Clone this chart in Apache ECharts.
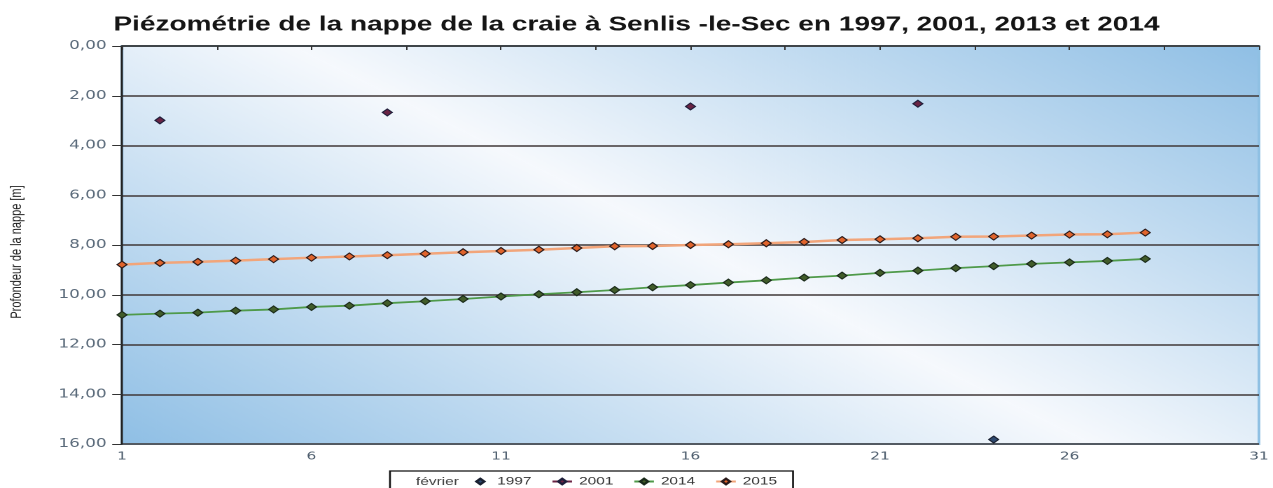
<!DOCTYPE html>
<html><head><meta charset="utf-8">
<script src="https://cdn.jsdelivr.net/npm/echarts@6/dist/echarts.min.js"></script>
<style>
html,body{margin:0;padding:0;background:#fff;overflow:hidden;}
#wrap{width:1273px;height:488px;overflow:hidden;}
#chart{width:909px;height:488px;transform:scaleX(1.4004);transform-origin:0 0;}
</style></head><body><div id="wrap"><div id="chart"></div></div>
<script>
// ---- data (day of month, depth in m) ----
const days = [1,2,3,4,5,6,7,8,9,10,11,12,13,14,15,16,17,18,19,20,21,22,23,24,25,26,27,28];
const depth2015 = [8.79,8.72,8.68,8.63,8.57,8.51,8.46,8.41,8.35,8.29,8.24,8.19,8.12,8.05,8.04,8.00,7.97,7.93,7.88,7.80,7.77,7.73,7.67,7.66,7.62,7.58,7.57,7.50];
const depth2014 = [10.81,10.76,10.72,10.64,10.59,10.49,10.44,10.34,10.26,10.17,10.07,9.98,9.90,9.81,9.70,9.61,9.51,9.42,9.31,9.23,9.12,9.03,8.93,8.85,8.76,8.70,8.64,8.56];
const days2001 = [2,8,16,22];
const depth2001 = [2.99,2.67,2.43,2.32];
const days1997 = [24];
const depth1997 = [15.82];
const seriesNames = ['1997','2001','2014','2015'];
const titleText = 'Piézométrie de la nappe de la craie à Senlis -le-Sec en 1997, 2001, 2013 et 2014';
const yName = 'Profondeur de la nappe [m]';
const xName = 'février';

const S = 1.4004; // horizontal stretch of the original picture
const chart = echarts.init(document.getElementById('chart'), null, {devicePixelRatio: 2});

const pts2015 = days.map((d, i) => [d, depth2015[i]]);
const pts2014 = days.map((d, i) => [d, depth2014[i]]);
const pts2001 = days.map(d => { const k = days2001.indexOf(d); return [d, k >= 0 ? depth2001[k] : null]; });
const pts1997 = days1997.map((d, i) => [d, depth1997[i]]);

const gL = 122 / S, gR = 11 / S;
const bg = new echarts.graphic.LinearGradient(268, 570, 721, -80, [
  {offset: 0, color: '#8fbfe5'},
  {offset: 0.5, color: '#f6f9fd'},
  {offset: 1, color: '#8fbfe5'}
], true);

chart.setOption({
  animation: false,
  backgroundColor: '#ffffff',
  title: {
    text: titleText, left: 'center', top: 10,
    textStyle: {fontFamily: '"Liberation Sans", Arial, sans-serif', fontWeight: 'bold', fontSize: 20, color: '#151515'}
  },
  grid: {
    left: gL, right: gR, top: 46, bottom: 44, show: true,
    backgroundColor: bg, borderColor: '#8fc0e3', borderWidth: 2
  },
  legend: {
    data: seriesNames, left: 331, top: 471, itemWidth: 14, itemHeight: 7, itemGap: 14,
    textStyle: {fontFamily: '"Liberation Sans", Arial, sans-serif', fontSize: 11, color: '#333'},
    selectedMode: false
  },
  graphic: [
    {type: 'rect', z: 0, shape: {x: 390 / S, y: 471, width: (793 - 390) / S, height: 30},
     style: {fill: '#ffffff', stroke: '#111', lineWidth: 1.3}},
    {type: 'text', z: 5, x: 416 / S, y: 482,
     style: {text: xName, verticalAlign: 'middle', font: '11px "Liberation Sans", Arial, sans-serif', fill: '#444'}},
    {type: 'text', z: 5, x: 17 / S, y: 252, rotation: Math.PI / 2,
     style: {text: yName, align: 'center', verticalAlign: 'middle', font: '11px "Liberation Sans", Arial, sans-serif', fill: '#222'}}
  ],
  xAxis: {
    type: 'value', min: 1, max: 31, interval: 5,
    axisLine: {show: true, lineStyle: {color: '#333', width: 1.5}},
    axisTick: {show: true, length: 4, lineStyle: {color: '#333'}},
    minorTick: {show: true, splitNumber: 2, length: 4, lineStyle: {color: '#333'}},
    splitLine: {show: false},
    axisLabel: {margin: 7, fontFamily: '"DejaVu Sans", sans-serif', fontSize: 11, color: '#4d5d6d'}
  },
  yAxis: {
    type: 'value', inverse: true, min: 0, max: 16, interval: 2,
    axisLine: {show: true, lineStyle: {color: '#222', width: 1.5}},
    axisTick: {show: true, length: 7, lineStyle: {color: '#333'}},
    splitLine: {show: true, lineStyle: {color: '#403838', width: 1.6}},
    axisLabel: {margin: 11, fontFamily: '"DejaVu Sans", sans-serif', fontSize: 12, color: '#5b6b7b',
      formatter: v => v.toFixed(2).replace('.', ',')}
  },
  series: [
    {name: '1997', type: 'line', data: pts1997, symbol: 'diamond', symbolSize: 7, showSymbol: true,
     itemStyle: {color: '#2f4a70', borderColor: '#1a2030', borderWidth: 1},
     lineStyle: {color: 'rgba(0,0,0,0)', width: 0}, z: 4},
    {name: '2001', type: 'line', data: pts2001, connectNulls: false, symbol: 'diamond', symbolSize: 7, showSymbol: true,
     itemStyle: {color: '#6a2444', borderColor: '#1e1e3a', borderWidth: 1},
     lineStyle: {color: '#6a2444', width: 1.5}, z: 4},
    {name: '2014', type: 'line', data: pts2014, symbol: 'diamond', symbolSize: 7, showSymbol: true,
     itemStyle: {color: '#415c2a', borderColor: '#1a2a1a', borderWidth: 1},
     lineStyle: {color: '#4f9a4a', width: 1.8}, z: 3},
    {name: '2015', type: 'line', data: pts2015, symbol: 'diamond', symbolSize: 7, showSymbol: true,
     itemStyle: {color: '#e0642c', borderColor: '#2a1a1a', borderWidth: 1},
     lineStyle: {color: '#f2a57a', width: 2.5}, z: 3}
  ]
});
</script></body></html>
